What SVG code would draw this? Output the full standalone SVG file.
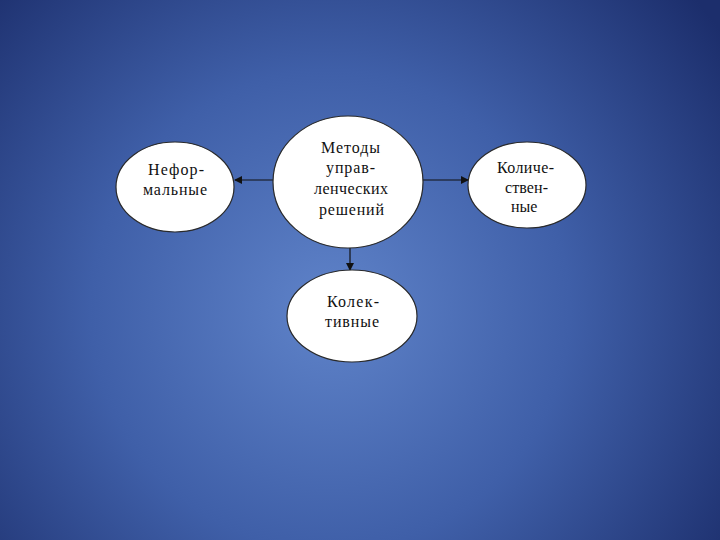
<svg xmlns="http://www.w3.org/2000/svg" width="720" height="540" viewBox="0 0 720 540">
<defs>
<radialGradient id="bg" cx="330" cy="310" r="480" gradientUnits="userSpaceOnUse">
<stop offset="0" stop-color="#5f83c9"/>
<stop offset="0.5" stop-color="#3f5fa8"/>
<stop offset="1" stop-color="#1c2e6c"/>
</radialGradient>
<marker id="ah" markerWidth="8" markerHeight="8" refX="7" refY="4" orient="auto" markerUnits="userSpaceOnUse">
<path d="M0,0 L8,4 L0,8 Z" fill="#111"/>
</marker>
<style>
.node ellipse{fill:#fff;stroke:#2a2a2a;stroke-width:1.2}
.node text{font-family:"Liberation Serif","Times New Roman",serif;font-size:16px;fill:#111}
.conn line{stroke:#111;stroke-width:1.2;marker-end:url(#ah)}
</style>
</defs>
<rect width="720" height="540" fill="url(#bg)"/>
<g id="connectors" class="conn">
<line x1="273" y1="180" x2="235" y2="180"/>
<line x1="423" y1="180" x2="468" y2="180"/>
<line x1="350" y1="248" x2="350" y2="270"/>
</g>
<g id="n-methods" class="node">
<ellipse cx="348" cy="182" rx="75" ry="66"/>
<text x="321" y="153" textLength="59" lengthAdjust="spacing">Методы</text>
<text x="326" y="173" textLength="49" lengthAdjust="spacing">управ-</text>
<text x="314" y="194" textLength="74" lengthAdjust="spacing">ленческих</text>
<text x="319" y="215" textLength="65" lengthAdjust="spacing">решений</text>
</g>
<g id="n-informal" class="node">
<ellipse cx="175" cy="187" rx="59" ry="45"/>
<text x="148" y="175" textLength="56" lengthAdjust="spacing">Нефор-</text>
<text x="143" y="195" textLength="64" lengthAdjust="spacing">мальные</text>
</g>
<g id="n-quant" class="node">
<ellipse cx="527" cy="185" rx="59" ry="43"/>
<text x="497" y="173" textLength="57" lengthAdjust="spacing">Количе-</text>
<text x="505" y="193" textLength="43" lengthAdjust="spacing">ствен-</text>
<text x="511" y="212">ные</text>
</g>
<g id="n-collective" class="node">
<ellipse cx="352" cy="316" rx="65" ry="46"/>
<text x="327" y="307" textLength="52" lengthAdjust="spacing">Колек-</text>
<text x="325" y="327" textLength="54" lengthAdjust="spacing">тивные</text>
</g>
</svg>
